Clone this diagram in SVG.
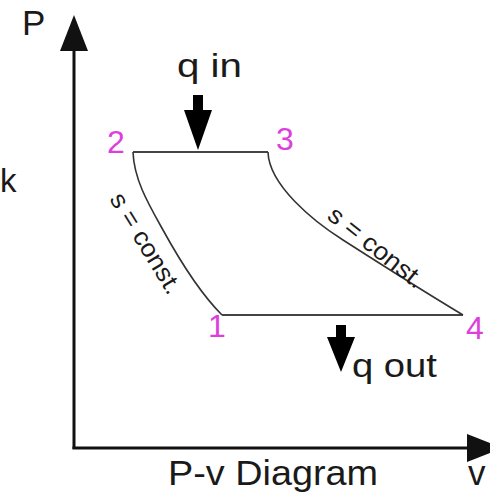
<svg xmlns="http://www.w3.org/2000/svg" width="490" height="504" viewBox="0 0 490 504">
<style>
.t{font-family:"Liberation Sans",Arial,sans-serif;fill:#1a1a1a}
.n{font-family:"Liberation Sans",Arial,sans-serif;fill:#dd3fdd;font-size:32px}
.cyc{fill:none;stroke:#444;stroke-width:2}
.cur{fill:none;stroke:#333;stroke-width:1.6}
.ax{fill:none;stroke:#111;stroke-width:3}
</style>
<rect width="490" height="504" fill="#fff"/>
<g id="axes">
<line class="ax" x1="74" y1="48" x2="74" y2="449"/>
<line class="ax" x1="72.5" y1="448" x2="470" y2="448"/>
<polygon points="74,15 60,51 88,51" fill="#111"/>
<polygon points="503,448 467,434 467,462" fill="#111"/>
<text class="t" x="22" y="35" font-size="35">P</text>
<text class="t" x="468" y="485" font-size="35">v</text>
<text class="t" x="0" y="192" font-size="33">k</text>
<text class="t" x="168" y="485" font-size="35" textLength="210" lengthAdjust="spacingAndGlyphs">P-v Diagram</text>
</g>
<g id="connectors">
<path class="cyc" d="M133,152 H268"/>
<path class="cyc" d="M222,315 H463"/>
<path class="cur" d="M133,152 C134,180 149,205 163,230 C179.5,260 202,295 222,315"/>
<path class="cur" d="M268,152 C269,185 313,221 343,240 C383,265.6 423,291 463,315"/>
</g>
<g id="state1"><text class="n" x="208" y="337">1</text></g>
<g id="state2"><text class="n" x="107" y="153">2</text></g>
<g id="state3"><text class="n" x="276" y="150">3</text></g>
<g id="state4"><text class="n" x="466" y="339">4</text></g>
<g id="label-s12"><text class="t" font-size="25" textLength="114" lengthAdjust="spacingAndGlyphs" transform="translate(109,199) rotate(58.5)">s = const.</text></g>
<g id="label-s34"><text class="t" font-size="25" textLength="115" lengthAdjust="spacingAndGlyphs" transform="translate(326,218) rotate(38.5)">s = const.</text></g>
<g id="q-in">
<rect x="193" y="95" width="10" height="17" fill="#000"/>
<polygon points="184,110 212,110 198,150" fill="#000"/>
<text class="t" x="177" y="77" font-size="33" textLength="65" lengthAdjust="spacingAndGlyphs">q in</text>
</g>
<g id="q-out">
<rect x="336" y="325" width="10" height="14" fill="#000"/>
<polygon points="327,337 355,337 341,372" fill="#000"/>
<text class="t" x="352" y="377" font-size="33" textLength="85" lengthAdjust="spacingAndGlyphs">q out</text>
</g>
</svg>
